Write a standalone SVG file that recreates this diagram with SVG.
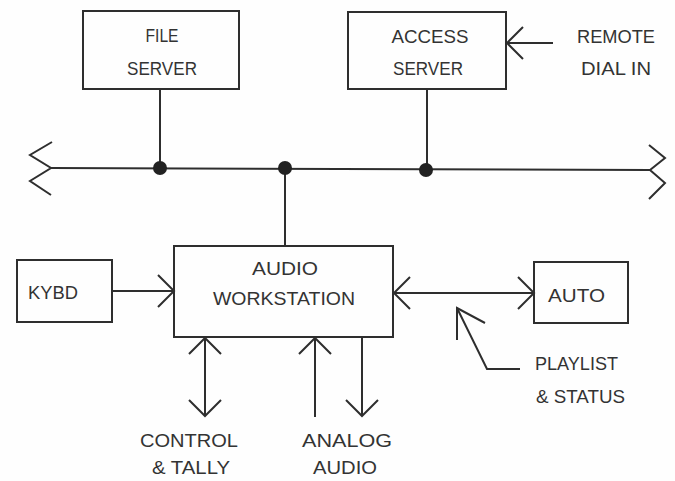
<svg xmlns="http://www.w3.org/2000/svg" width="675" height="481" viewBox="0 0 675 481">
  <style>
    .box { fill: none; stroke: #2e2e2e; stroke-width: 2; }
    .ln { fill: none; stroke: #2e2e2e; stroke-width: 2; stroke-linejoin: miter; }
    .dot { fill: #222; }
    text { font-family: "Liberation Sans", Arial, sans-serif; font-size: 19px; fill: #333; }
    .c { text-anchor: middle; }
  </style>
  <rect width="675" height="481" fill="#fefefe"/>

  <!-- network bus with its break symbols and junctions -->
  <g id="connectors">
    <polyline class="ln" points="52,142 30,155 51,168 30,181 51,195"/>
    <line class="ln" x1="51" y1="168" x2="650" y2="170"/>
    <polyline class="ln" points="649,145 665,158 650,170 665,183 649,199"/>

    <line class="ln" x1="160" y1="89" x2="160" y2="168"/>
    <line class="ln" x1="427" y1="89" x2="427" y2="170"/>
    <line class="ln" x1="285" y1="168" x2="285" y2="246"/>
    <circle class="dot" cx="160" cy="168" r="7"/>
    <circle class="dot" cx="285" cy="168" r="7"/>
    <circle class="dot" cx="426" cy="170" r="7"/>

    <!-- remote dial in -->
    <line class="ln" x1="553" y1="43" x2="507" y2="43"/>
    <polyline class="ln" points="523,27 507,43 523,59"/>

    <!-- keyboard to workstation -->
    <line class="ln" x1="112" y1="291" x2="174" y2="291"/>
    <polyline class="ln" points="158,275 174,291 158,307"/>

    <!-- workstation to automation, both ways -->
    <line class="ln" x1="393" y1="293" x2="534" y2="293"/>
    <polyline class="ln" points="410,277 394,293 410,309"/>
    <polyline class="ln" points="518,277 534,293 518,309"/>

    <!-- playlist & status pointer -->
    <polyline class="ln" points="520,369 487,369 457,308"/>
    <polyline class="ln" points="457,340 457,308 485,323"/>

    <!-- control & tally, both ways -->
    <line class="ln" x1="205" y1="338" x2="205" y2="416"/>
    <polyline class="ln" points="189,354 205,338 221,354"/>
    <polyline class="ln" points="189,400 205,416 221,400"/>

    <!-- analog audio in -->
    <line class="ln" x1="315" y1="338" x2="315" y2="417"/>
    <polyline class="ln" points="299,354 315,338 331,354"/>

    <!-- analog audio out -->
    <line class="ln" x1="362" y1="338" x2="362" y2="416"/>
    <polyline class="ln" points="346,400 362,416 378,400"/>
  </g>

  <g id="file-server">
    <rect class="box" x="83" y="11" width="156" height="78"/>
    <text class="c" x="162" y="42" textLength="33" lengthAdjust="spacingAndGlyphs">FILE</text>
    <text class="c" x="162" y="75" textLength="70" lengthAdjust="spacingAndGlyphs">SERVER</text>
  </g>

  <g id="access-server">
    <rect class="box" x="348" y="12" width="158" height="77"/>
    <text class="c" x="430" y="43" textLength="77" lengthAdjust="spacingAndGlyphs">ACCESS</text>
    <text class="c" x="428" y="75" textLength="70" lengthAdjust="spacingAndGlyphs">SERVER</text>
  </g>

  <g id="remote-dial-in">
    <text class="c" x="616" y="43" textLength="78" lengthAdjust="spacingAndGlyphs">REMOTE</text>
    <text class="c" x="616" y="75" textLength="70" lengthAdjust="spacingAndGlyphs">DIAL IN</text>
  </g>

  <g id="keyboard">
    <rect class="box" x="17" y="260" width="95" height="62"/>
    <text x="28" y="299" textLength="50" lengthAdjust="spacingAndGlyphs">KYBD</text>
  </g>

  <g id="audio-workstation">
    <rect class="box" x="174" y="246" width="219" height="91"/>
    <text class="c" x="285" y="275" textLength="66" lengthAdjust="spacingAndGlyphs">AUDIO</text>
    <text class="c" x="284" y="305" textLength="142" lengthAdjust="spacingAndGlyphs">WORKSTATION</text>
  </g>

  <g id="automation">
    <rect class="box" x="534" y="262" width="94" height="61"/>
    <text x="548" y="302" textLength="57" lengthAdjust="spacingAndGlyphs">AUTO</text>
  </g>

  <g id="playlist-status">
    <text x="535" y="370" textLength="83" lengthAdjust="spacingAndGlyphs">PLAYLIST</text>
    <text x="536" y="403" textLength="89" lengthAdjust="spacingAndGlyphs">&amp; STATUS</text>
  </g>

  <g id="control-tally">
    <text class="c" x="189" y="447" textLength="98" lengthAdjust="spacingAndGlyphs">CONTROL</text>
    <text class="c" x="191" y="474" textLength="78" lengthAdjust="spacingAndGlyphs">&amp; TALLY</text>
  </g>

  <g id="analog-audio">
    <text class="c" x="347" y="447" textLength="90" lengthAdjust="spacingAndGlyphs">ANALOG</text>
    <text class="c" x="345" y="474" textLength="64" lengthAdjust="spacingAndGlyphs">AUDIO</text>
  </g>
</svg>
